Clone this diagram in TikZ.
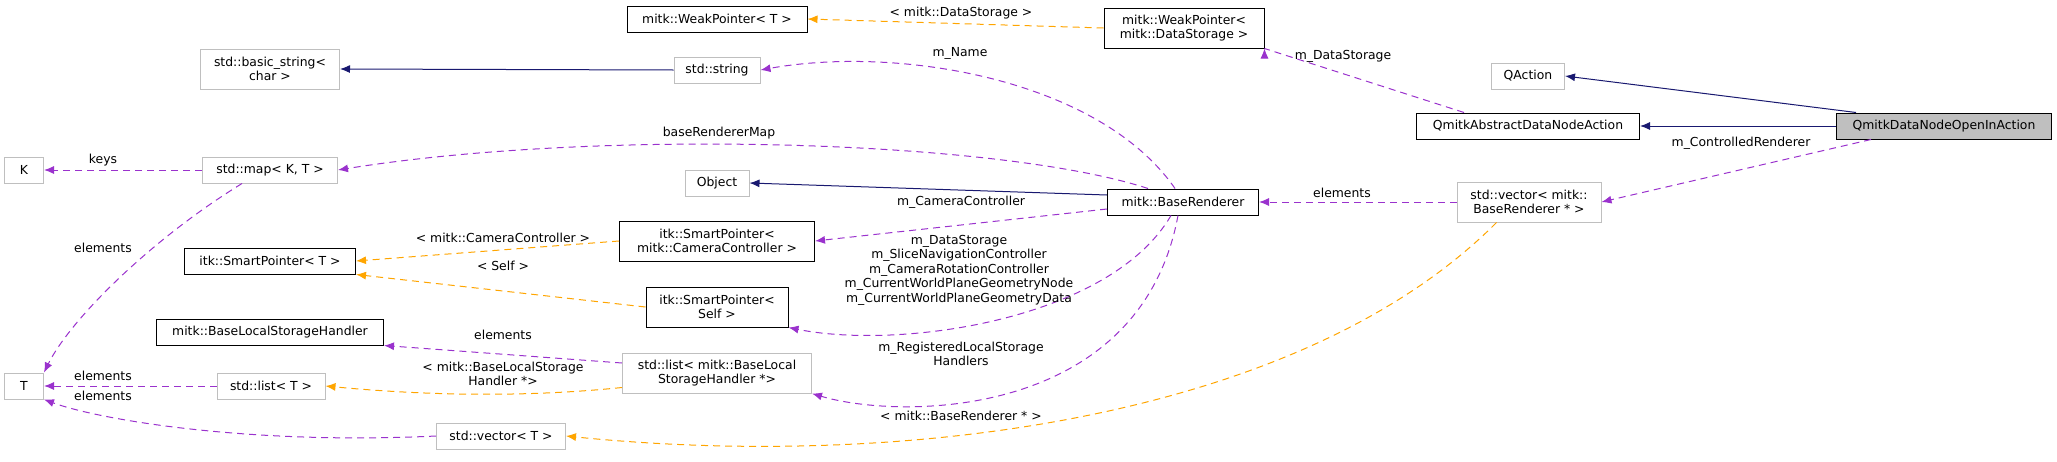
\documentclass[tikz,border=0pt]{standalone}
\usepackage{fontspec}
\setmainfont{DejaVu Sans}
\usetikzlibrary{arrows.meta}
\definecolor{navy}{HTML}{191970}
\definecolor{purp}{HTML}{9A32CD}
\definecolor{orng}{HTML}{FFA500}
\definecolor{gbord}{HTML}{BFBFBF}
\begin{document}
\begin{tikzpicture}[x=1pt,y=-1pt,
  every node/.style={font=\fontsize{12.4}{14.5}\selectfont},
  box/.style={draw=black,line width=1pt,fill=white,inner sep=0pt,align=center,minimum height=26pt},
  gbox/.style={box,draw=gbord},
  two/.style={minimum height=40pt},
  lbl/.style={inner sep=0pt,align=center},
  inh/.style={draw=navy,line width=1pt,-{Latex[length=10pt,width=8pt]}},
  use/.style={draw=purp,line width=1pt,dash pattern=on 7pt off 5pt,-{Latex[length=10pt,width=8pt]}},
  tpl/.style={draw=orng,line width=1pt,dash pattern=on 7pt off 5pt,-{Latex[length=10pt,width=8pt]}}]
\useasboundingbox (0,0) rectangle (2057,461);
\node[box,minimum width=180pt] (wpT) at (717,19) {mitk::WeakPointer< T >};
\node[box,two,minimum width=160pt] (wpDS) at (1184,28) {mitk::WeakPointer<\\mitk::DataStorage >};
\node[gbox,two,minimum width=139pt] (bstr) at (270,69) {std::basic\_string<\\char >};
\node[gbox,minimum width=86pt] (str) at (717,70) {std::string};
\node[gbox,minimum width=73pt] (qa) at (1528,76) {QAction};
\node[box,minimum width=223pt] (qadna) at (1528,126) {QmitkAbstractDataNodeAction};
\node[box,fill=gbord,minimum width=215pt] (main) at (1944,126) {QmitkDataNodeOpenInAction};
\node[gbox,minimum width=39pt] (K) at (24,170) {K};
\node[gbox,minimum width=135pt] (map) at (270,170) {std::map< K, T >};
\node[gbox,minimum width=64pt] (obj) at (717,183) {Object};
\node[box,minimum width=151pt] (BR) at (1183,202) {mitk::BaseRenderer};
\node[gbox,two,minimum width=144pt] (vecBR) at (1529,202) {std::vector< mitk::\\BaseRenderer * >};
\node[box,two,minimum width=195pt] (spCC) at (717,241) {itk::SmartPointer<\\mitk::CameraController >};
\node[box,minimum width=171pt] (spT) at (270,261) {itk::SmartPointer< T >};
\node[box,two,minimum width=142pt] (spS) at (717,307) {itk::SmartPointer<\\Self >};
\node[box,minimum width=227pt] (blsh) at (270,332) {mitk::BaseLocalStorageHandler};
\node[gbox,two,minimum width=189pt] (lBL) at (717,373) {std::list< mitk::BaseLocal\\StorageHandler *>};
\node[gbox,minimum width=39pt] (T) at (24,386) {T};
\node[gbox,minimum width=108pt] (lT) at (271,386) {std::list< T >};
\node[gbox,minimum width=129pt] (vT) at (501,436) {std::vector< T >};
% edges
\draw[inh] (main.north west) ++(20,0) coordinate (m1) -- (qa.east);
\draw[inh] (main.west) -- (qadna.east);
\draw[use] (qadna.north west) ++(48,0) coordinate (q1) -- (wpDS.south east) ++(0,0);
\draw[use] (main.south west) ++(35,0) coordinate (m2) -- (vecBR.east);
\draw[use] (vecBR.west) -- (BR.east);
\draw[tpl] (wpDS.west) -- (wpT.east);
\draw[inh] (str.west) -- (bstr.east);
\draw[use] (BR.north) ++(-8,0) coordinate (b1) .. controls (1100,80) and (900,45) .. (str.east);
\draw[use] (BR.north) ++(-35,0) coordinate (b2) .. controls (1000,140) and (600,128) .. (map.east);
\draw[inh] (BR.west) ++(0,-7) coordinate (b3) -- (obj.east);
\draw[use] (BR.west) ++(0,7) coordinate (b4) -- (spCC.east);
\draw[use] (BR.south) ++(-12,0) coordinate (b5) .. controls (1110,320) and (900,350) .. (spS.south east);
\draw[use] (BR.south) ++(-5,0) coordinate (b6) .. controls (1140,420) and (900,420) .. (lBL.south east);
\draw[tpl] (vecBR.south west) ++(40,0) coordinate (v1) .. controls (1300,420) and (900,470) .. (vT.east);
\draw[use] (vT.west) .. controls (250,445) and (100,420) .. (T.south east);
\draw[use] (map.south west) ++(40,0) coordinate (p1) .. controls (150,240) and (70,320) .. (T.north east);
\draw[tpl] (spCC.west) -- (spT.east);
\draw[tpl] (spS.west) -- (spT.south east);
\draw[use] (lBL.west) ++(0,-10) coordinate (l1) -- (blsh.south east);
\draw[tpl] (lBL.south west) ++(0,-6) coordinate (l2) .. controls (520,398) and (420,395) .. (lT.east);
\draw[use] (map.west) -- (K.east);
\draw[use] (lT.west) -- (T.east);
% labels
\node[lbl] (L1) at (961,13) {< mitk::DataStorage >};
\node[lbl] (L2) at (960,53) {m\_Name};
\node[lbl] (L3) at (1343,56) {m\_DataStorage};
\node[lbl] (L4) at (719,133) {baseRendererMap};
\node[lbl] (L5) at (1342,193) {elements};
\node[lbl] (L6) at (1741,143) {m\_ControlledRenderer};
\node[lbl] (L7) at (961,202) {m\_CameraController};
\node[lbl] (L8) at (959,270) {m\_DataStorage\\m\_SliceNavigationController\\m\_CameraRotationController\\m\_CurrentWorldPlaneGeometryNode\\m\_CurrentWorldPlaneGeometryData};
\node[lbl] (L9) at (961,354) {m\_RegisteredLocalStorage\\Handlers};
\node[lbl] (L10) at (961,416) {< mitk::BaseRenderer * >};
\node[lbl] (L11) at (103,160) {keys};
\node[lbl] (L12) at (103,248) {elements};
\node[lbl] (L13) at (503,238) {< mitk::CameraController >};
\node[lbl] (L14) at (503,266) {< Self >};
\node[lbl] (L15) at (503,335) {elements};
\node[lbl] (L16) at (503,374) {< mitk::BaseLocalStorage\\Handler *>};
\node[lbl] (L17) at (103,376) {elements};
\node[lbl] (L18) at (103,396) {elements};
\end{tikzpicture}
\end{document}
